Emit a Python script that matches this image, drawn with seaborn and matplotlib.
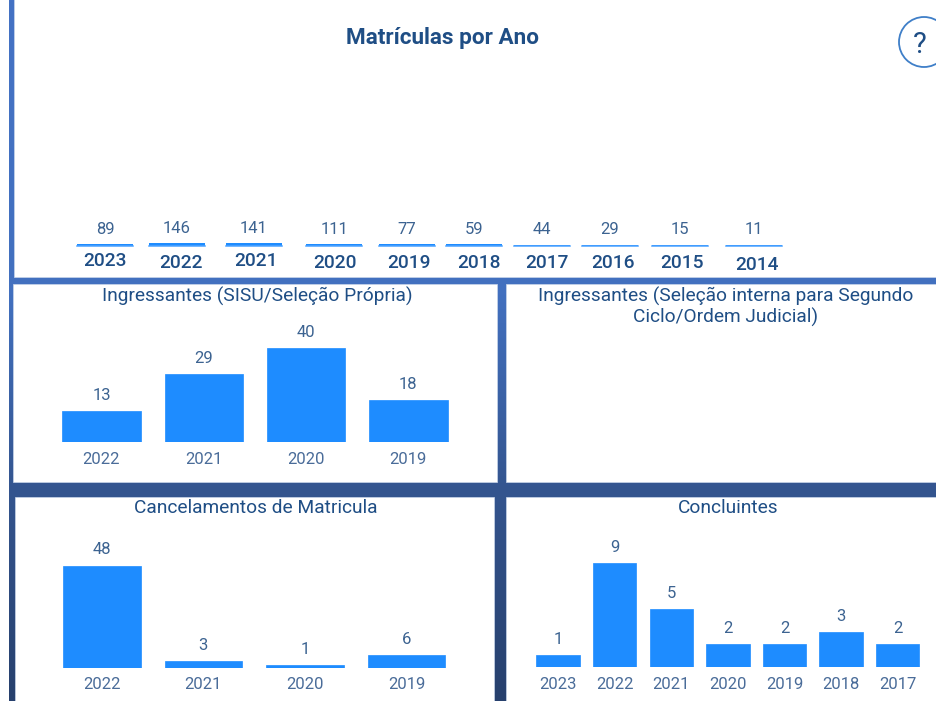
import matplotlib
matplotlib.use('Agg')
import matplotlib.pyplot as plt
from matplotlib.colors import LinearSegmentedColormap
from matplotlib.patches import Rectangle, Circle
import numpy as np
import pandas as pd
import seaborn as sns

anos_matriculas = ['2023', '2022', '2021', '2020', '2019', '2018', '2017', '2016', '2015', '2014']
matriculas = [89, 146, 141, 111, 77, 59, 44, 29, 15, 11]

anos_ingressantes = ['2022', '2021', '2020', '2019']
ingressantes = [13, 29, 40, 18]

anos_cancelamentos = ['2022', '2021', '2020', '2019']
cancelamentos = [48, 3, 1, 6]

anos_concluintes = ['2023', '2022', '2021', '2020', '2019', '2018', '2017']
concluintes = [1, 9, 5, 2, 2, 3, 2]

# layout (pixels da imagem)
W, H = 937, 701
card_esq = [77, 149, 226, 306, 379, 446, 514, 582, 652, 726]
card_ano_dx = [0, 4, 2, 1, 2, 5, 5, 3, 2, 3]
card_ano_dy = [15, 17, 16, 18, 18, 18, 18, 18, 18, 19]
card_valor_dy = [16, 17, 17, 16, 16, 16, 16, 16, 16, 16]

AZUL = '#1E8CFF'
COR_TITULO = '#1F4E85'
COR_VALOR = '#3C6391'
COR_ANO = '#4A6C99'

sns.set_theme(style='white')
plt.rcParams['font.family'] = ['Roboto', 'DejaVu Sans']

fig = plt.figure(figsize=(W / 100, H / 100), dpi=100)

# fundo: gradiente da moldura + paineis brancos
bg = fig.add_axes([0, 0, 1, 1])
bg.axis('off')
cmap = LinearSegmentedColormap.from_list(
    'moldura', [(0, '#4472C4'), (0.42, '#4270BF'), (0.7, '#34558F'), (1, '#27406D')])
bg.imshow(np.linspace(0, 1, 256).reshape(-1, 1), cmap=cmap, aspect='auto',
          extent=(9, W, H, 0), zorder=0)
bg.set_xlim(0, W)
bg.set_ylim(H, 0)
for x0, y0, x1, y1 in [(14, -3, W + 3, 277), (13, 284, 497, 482), (506, 284, W + 3, 482),
                       (15, 497, 494, H + 3), (506, 497, W + 3, H + 3)]:
    bg.add_patch(Rectangle((x0, y0), x1 - x0, y1 - y0, fc='white', ec='#C9D6EA', lw=0.5, zorder=1))

bg.text(443, 38, 'Matrículas por Ano', ha='center', va='center', fontsize=16.2,
        fontweight='bold', color=COR_TITULO, zorder=2)
bg.add_patch(Circle((924, 42), 25, fc='white', ec='#3F7FC8', lw=1.3, zorder=2))
bg.text(920, 45, '?', ha='center', va='center', fontsize=21, color=COR_TITULO, zorder=3)

for x, y, txt in [(257, 296, 'Ingressantes (SISU/Seleção Própria)'),
                  (726, 296, 'Ingressantes (Seleção interna para Segundo'),
                  (726, 317, 'Ciclo/Ordem Judicial)'),
                  (256, 508, 'Cancelamentos de Matricula'),
                  (728, 508, 'Concluintes')]:
    bg.text(x, y, txt, ha='center', va='center', fontsize=13.8, color=COR_TITULO, zorder=2)


def eixo_px(x0, y_topo, x1, y_base):
    return fig.add_axes([x0 / W, 1 - y_base / H, (x1 - x0) / W, (y_base - y_topo) / H])


def barras(ax, anos, valores, largura, pad_val=5.8, pad_tick=7):
    df = pd.DataFrame({'ano': anos, 'valor': valores})
    sns.barplot(data=df, x='ano', y='valor', color=AZUL, saturation=1, width=largura,
                edgecolor=AZUL, linewidth=0.5, ax=ax)
    ax.set_ylim(0, max(valores))
    ax.set_xlim(-0.5, len(anos) - 0.5)
    ax.bar_label(ax.containers[0], fmt='%d', padding=pad_val, fontsize=12, color=COR_VALOR)
    ax.set(xlabel='', ylabel='', yticks=[])
    ax.tick_params(axis='x', length=0, pad=pad_tick, labelsize=12, labelcolor=COR_ANO)
    ax.patch.set_alpha(0)
    sns.despine(ax=ax, left=True, bottom=True)


# cartoes do topo: cada um e uma barrinha cuja espessura segue o valor, sobre uma linha fina
for i, (ano, valor) in enumerate(zip(anos_matriculas, matriculas)):
    ax = eixo_px(card_esq[i], 243, card_esq[i] + 56, 245.5)
    df = pd.DataFrame({'ano': [ano], 'valor': [valor]})
    sns.barplot(data=df, x='ano', y='valor', color=AZUL, saturation=1, width=1,
                edgecolor=AZUL, linewidth=0, ax=ax)
    ax.set_ylim(0, max(matriculas))
    ax.set_xlim(-0.5, 0.5)
    ax.set(xlabel='', ylabel='', xticks=[], yticks=[])
    ax.annotate(str(valor), xy=(0.5, 0), xycoords='axes fraction', xytext=(0, card_valor_dy[i]),
                textcoords='offset pixels', fontsize=12, ha='center', va='center',
                color=COR_VALOR, annotation_clip=False)
    ax.annotate(ano, xy=(0.5, 0), xycoords='axes fraction',
                xytext=(card_ano_dx[i], -card_ano_dy[i]), textcoords='offset pixels',
                fontsize=13.8, fontweight='medium', ha='center', va='center',
                color=COR_TITULO, annotation_clip=False)
    ax.patch.set_alpha(0)
    sns.despine(ax=ax, left=True, top=True, right=True, bottom=False)
    ax.spines['bottom'].set_color('#4DA3FF')
    ax.spines['bottom'].set_linewidth(1.1)

barras(eixo_px(50.3, 348, 459.5, 442), anos_ingressantes, ingressantes, 0.767)
barras(eixo_px(51, 565.5, 457.5, 667.5), anos_cancelamentos, cancelamentos, 0.762)
barras(eixo_px(529.7, 563, 926, 667), anos_concluintes, concluintes, 0.765)

fig.savefig('out.png', dpi=100)
